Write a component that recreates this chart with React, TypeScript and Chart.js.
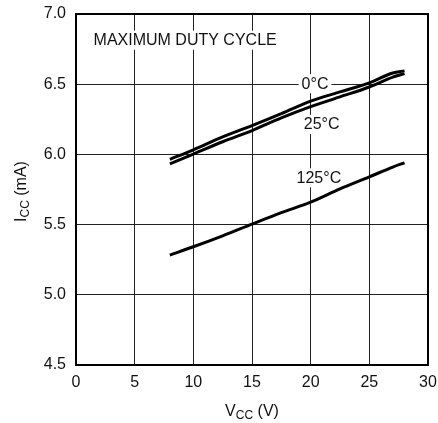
import React, { useEffect, useRef } from "react";
import { Chart, registerables } from "chart.js";

Chart.register(...registerables);

// Supply voltage (V) sample points shared by every curve
const vcc = [8, 10, 12.5, 15, 17.5, 20, 22.5, 25, 27, 28];
// Supply current (mA) at maximum duty cycle, per junction temperature
const icc0C = [5.965, 6.033, 6.125, 6.205, 6.29, 6.38, 6.445, 6.51, 6.58, 6.595];
const icc25C = [5.933, 6.002, 6.09, 6.17, 6.26, 6.34, 6.41, 6.48, 6.55, 6.575];
const icc125C = [5.283, 5.342, 5.42, 5.503, 5.585, 5.66, 5.755, 5.84, 5.91, 5.94];

const xRange = [0, 30];
const yRange = [4.5, 7.0];

const FONT = "'Liberation Sans', Arial, Helvetica, sans-serif";
const INK = "#111";

// In-plot annotations (data coordinates)
const notes = [
  { text: "MAXIMUM DUTY CYCLE", x: 1.5, y: 6.81, align: "left" as CanvasTextAlign },
  { text: "0°C", x: 20.37, y: 6.5, align: "center" as CanvasTextAlign },
  { text: "25°C", x: 20.94, y: 6.21, align: "center" as CanvasTextAlign },
  { text: "125°C", x: 20.7, y: 5.83, align: "center" as CanvasTextAlign },
];

type Part = { t: string; size: number; dy: number };

function drawParts(ctx: CanvasRenderingContext2D, parts: Part[], cx: number, baseY: number) {
  let total = 0;
  for (const p of parts) {
    ctx.font = `${p.size}px ${FONT}`;
    total += ctx.measureText(p.t).width;
  }
  let x = cx - total / 2;
  ctx.textAlign = "left";
  ctx.textBaseline = "alphabetic";
  for (const p of parts) {
    ctx.font = `${p.size}px ${FONT}`;
    ctx.fillText(p.t, x, baseY + p.dy);
    x += ctx.measureText(p.t).width;
  }
}

const decorations = {
  id: "decorations",
  beforeDatasetsDraw(chart: any) {
    const { ctx, scales } = chart;
    const xs = scales.x;
    const ys = scales.y;
    ctx.save();
    ctx.font = `16px ${FONT}`;
    ctx.textBaseline = "middle";
    for (const n of notes) {
      const px = xs.getPixelForValue(n.x);
      const py = ys.getPixelForValue(n.y);
      const w = ctx.measureText(n.text).width;
      const left = n.align === "center" ? px - w / 2 : px;
      ctx.fillStyle = "#ffffff";
      ctx.fillRect(left - 3, py - 10, w + 6, 19);
      ctx.fillStyle = INK;
      ctx.textAlign = n.align;
      ctx.fillText(n.text, px, py);
    }
    ctx.restore();
  },
  afterDraw(chart: any) {
    const { ctx, chartArea } = chart;
    ctx.save();
    // plot frame
    ctx.strokeStyle = "#000";
    ctx.lineWidth = 2;
    ctx.strokeRect(chartArea.left, chartArea.top, chartArea.right - chartArea.left, chartArea.bottom - chartArea.top);

    ctx.fillStyle = INK;
    // x-axis title: V_CC (V)
    drawParts(
      ctx,
      [
        { t: "V", size: 16, dy: 0 },
        { t: "CC", size: 12, dy: 3 },
        { t: " (V)", size: 16, dy: 0 },
      ],
      (chartArea.left + chartArea.right) / 2,
      416
    );
    // y-axis title: I_CC (mA)
    ctx.translate(26, (chartArea.top + chartArea.bottom) / 2 + 2);
    ctx.rotate(-Math.PI / 2);
    drawParts(
      ctx,
      [
        { t: "I", size: 16, dy: 0 },
        { t: "CC", size: 12, dy: 3 },
        { t: " (mA)", size: 16, dy: 0 },
      ],
      0,
      0
    );
    ctx.restore();
  },
};

function series(values: number[]) {
  return values.map((v, i) => ({ x: vcc[i], y: v }));
}

export default function App() {
  const ref = useRef<HTMLCanvasElement | null>(null);

  useEffect(() => {
    if (!ref.current) return;
    const line = (label: string, values: number[]) => ({
      label,
      data: series(values),
      borderColor: "#000",
      borderWidth: 3,
      pointRadius: 0,
      fill: false,
      cubicInterpolationMode: "monotone" as const,
    });
    const chart = new Chart(ref.current, {
      type: "line",
      data: {
        datasets: [line("0°C", icc0C), line("25°C", icc25C), line("125°C", icc125C)],
      },
      options: {
        animation: false,
        responsive: false,
        devicePixelRatio: 1,
        layout: { padding: { top: 14, right: 10, left: 0, bottom: 0 } },
        plugins: { legend: { display: false }, tooltip: { enabled: false } },
        scales: {
          x: {
            type: "linear",
            min: xRange[0],
            max: xRange[1],
            afterFit: (s: any) => {
              s.height = 58;
              s.paddingLeft = 0;
              s.paddingRight = 0;
            },
            ticks: {
              stepSize: 5,
              autoSkip: false,
              maxRotation: 0,
              padding: 8,
              color: INK,
              font: { family: FONT, size: 16 },
            },
            grid: { color: "#222", lineWidth: 1, drawTicks: false },
            border: { display: false },
          },
          y: {
            type: "linear",
            min: yRange[0],
            max: yRange[1],
            afterFit: (s: any) => {
              s.width = 76;
              s.paddingTop = 0;
              s.paddingBottom = 0;
            },
            ticks: {
              stepSize: 0.5,
              autoSkip: false,
              padding: 10,
              color: INK,
              font: { family: FONT, size: 16 },
              callback: (v: any) => Number(v).toFixed(1),
            },
            grid: { color: "#222", lineWidth: 1, drawTicks: false },
            border: { display: false },
          },
        },
      },
      plugins: [decorations],
    });
    return () => chart.destroy();
  }, []);

  return (
    <div style={{ position: "fixed", left: 0, top: 0, width: 438, height: 423, background: "#fff" }}>
      <canvas ref={ref} width={438} height={423} style={{ display: "block" }} />
    </div>
  );
}
